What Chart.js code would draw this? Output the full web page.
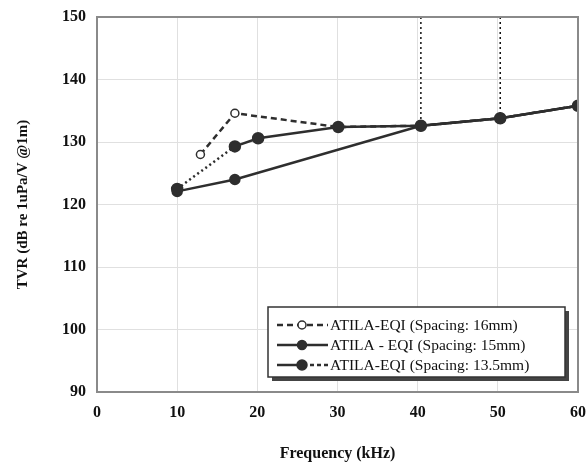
<!DOCTYPE html>
<html><head><meta charset="utf-8">
<script src="https://cdn.jsdelivr.net/npm/chart.js@4"></script>
<style>html,body{margin:0;padding:0;background:#fff}#wrap{width:588px;height:466px;position:relative}</style>
</head><body><div id="wrap"><canvas id="c" width="588" height="466"></canvas></div>
<script>
// ---- data ----
const seriesNames = ["ATILA-EQI (Spacing: 16mm)", "ATILA - EQI (Spacing: 15mm)", "ATILA-EQI (Spacing: 13.5mm)"];
const freq16 = [12.9, 17.2, 30.1, 40.4, 50.3, 60];
const tvr16  = [128.0, 134.6, 132.4, 132.6, 133.8, 135.8];
const freq15 = [10, 17.2, 40.4, 50.3, 60];
const tvr15  = [122.1, 124.0, 132.6, 133.8, 135.8];
const freq135 = [10, 17.2, 20.1, 30.1, 40.4, 50.3, 60];
const tvr135  = [122.5, 129.3, 130.6, 132.4, 132.6, 133.8, 135.8];
const guideFreqs = [40.4, 50.3];
const guideFrom = [150, 150];
const guideTo = [132.6, 133.8];
const xTicks = [0, 10, 20, 30, 40, 50, 60];
const yTicks = [90, 100, 110, 120, 130, 140, 150];

const pts = (xs, ys) => xs.map((x, i) => ({x: x, y: ys[i]}));
const guidePts = [];
guideFreqs.forEach((f, i) => { guidePts.push({x: f, y: guideFrom[i]}, {x: f, y: guideTo[i]}, {x: f, y: NaN}); });

const INK = '#2e2e2e';
const serif = "'Liberation Serif', 'DejaVu Serif', serif";

const legendPlugin = {
  id: 'boxLegend',
  afterDraw(chart) {
    const ctx = chart.ctx;
    const x0 = 268, y0 = 307, w = 297, h = 70;
    ctx.save();
    ctx.fillStyle = '#444';
    ctx.fillRect(x0 + 4, y0 + 4, w, h);
    ctx.fillStyle = '#fff';
    ctx.fillRect(x0, y0, w, h);
    ctx.strokeStyle = '#333';
    ctx.lineWidth = 1.5;
    ctx.strokeRect(x0, y0, w, h);
    const rows = [325, 345, 365];
    chart.data.datasets.slice(0, 3).forEach((ds, i) => {
      const y = rows[i];
      ctx.strokeStyle = ds.borderColor;
      ctx.lineWidth = ds.borderWidth;
      if (i === 2) {
        ctx.setLineDash([]);
        ctx.beginPath(); ctx.moveTo(277, y); ctx.lineTo(303, y); ctx.stroke();
        ctx.setLineDash([4, 3]);
        ctx.beginPath(); ctx.moveTo(303, y); ctx.lineTo(328, y); ctx.stroke();
      } else {
        ctx.setLineDash(ds.borderDash || []);
        ctx.beginPath(); ctx.moveTo(277, y); ctx.lineTo(328, y); ctx.stroke();
      }
      ctx.setLineDash([]);
      ctx.beginPath();
      ctx.arc(302, y, ds.pointRadius, 0, Math.PI * 2);
      ctx.fillStyle = ds.pointBackgroundColor;
      ctx.fill();
      ctx.lineWidth = 1.5;
      ctx.strokeStyle = ds.pointBorderColor;
      ctx.stroke();
      ctx.fillStyle = '#111';
      ctx.font = "15.5px " + serif;
      ctx.textBaseline = 'middle';
      ctx.fillText(ds.label, 330, y + 1);
    });
    ctx.restore();
  }
};

new Chart(document.getElementById('c'), {
  type: 'line',
  data: {
    datasets: [
      { label: seriesNames[0], data: pts(freq16, tvr16), borderColor: INK, borderWidth: 2.5, borderDash: [6, 4],
        pointRadius: 4, pointBackgroundColor: '#fff', pointBorderColor: INK, pointBorderWidth: 1.5, order: 3 },
      { label: seriesNames[1], data: pts(freq15, tvr15), borderColor: INK, borderWidth: 2.5,
        pointRadius: 4.5, pointBackgroundColor: INK, pointBorderColor: INK, order: 2 },
      { label: seriesNames[2], data: pts(freq135, tvr135), borderColor: INK, borderWidth: 2.5,
        segment: { borderDash: c => c.p0DataIndex === 0 ? [2, 3] : undefined },
        pointRadius: 5, pointBackgroundColor: INK, pointBorderColor: INK, order: 1 },
      { label: 'guides', data: guidePts, borderColor: '#111', borderWidth: 1.5, borderDash: [2, 3],
        pointRadius: 0, spanGaps: false, order: 4 }
    ]
  },
  options: {
    responsive: false, animation: false,
    layout: { padding: { top: 17, right: 10, left: 0, bottom: 0 } },
    plugins: { legend: { display: false }, tooltip: { enabled: false } },
    elements: { line: { tension: 0 } },
    scales: {
      x: {
        type: 'linear', min: 0, max: 60,
        afterBuildTicks: s => { s.ticks = xTicks.map(v => ({value: v})); },
        afterFit: s => { s.height = 74; s.paddingRight = 0; s.paddingLeft = 0; },
        grid: { color: '#e0e0e0', lineWidth: 1, drawTicks: false },
        border: { color: '#8a8a8a', width: 2 },
        ticks: { padding: 11, color: '#111', font: { family: serif, size: 16, weight: 'bold' } },
        title: { display: true, text: 'Frequency (kHz)', color: '#111', padding: { top: 0, bottom: 3 },
                 font: { family: serif, size: 16, weight: 'bold' } }
      },
      y: {
        type: 'linear', min: 90, max: 150,
        afterBuildTicks: s => { s.ticks = yTicks.map(v => ({value: v})); },
        afterFit: s => { s.width = 97; s.paddingTop = 0; s.paddingBottom = 0; },
        grid: { color: '#e0e0e0', lineWidth: 1, drawTicks: false },
        border: { color: '#8a8a8a', width: 2 },
        ticks: { padding: 11, color: '#111', font: { family: serif, size: 16, weight: 'bold' } },
        title: { display: true, text: 'TVR (dB re 1uPa/V @1m)', color: '#111', padding: { top: 14, bottom: 0 },
                 font: { family: serif, size: 15, weight: 'bold' } }
      }
    }
  },
  plugins: [legendPlugin, {
    id: 'frame',
    afterDatasetsDraw(chart) {
      const a = chart.chartArea, ctx = chart.ctx;
      ctx.save(); ctx.strokeStyle = '#8a8a8a'; ctx.lineWidth = 2;
      ctx.beginPath(); ctx.moveTo(a.left, a.top); ctx.lineTo(a.right, a.top); ctx.lineTo(a.right, a.bottom); ctx.stroke();
      ctx.restore();
    }
  }]
});
</script></body></html>
